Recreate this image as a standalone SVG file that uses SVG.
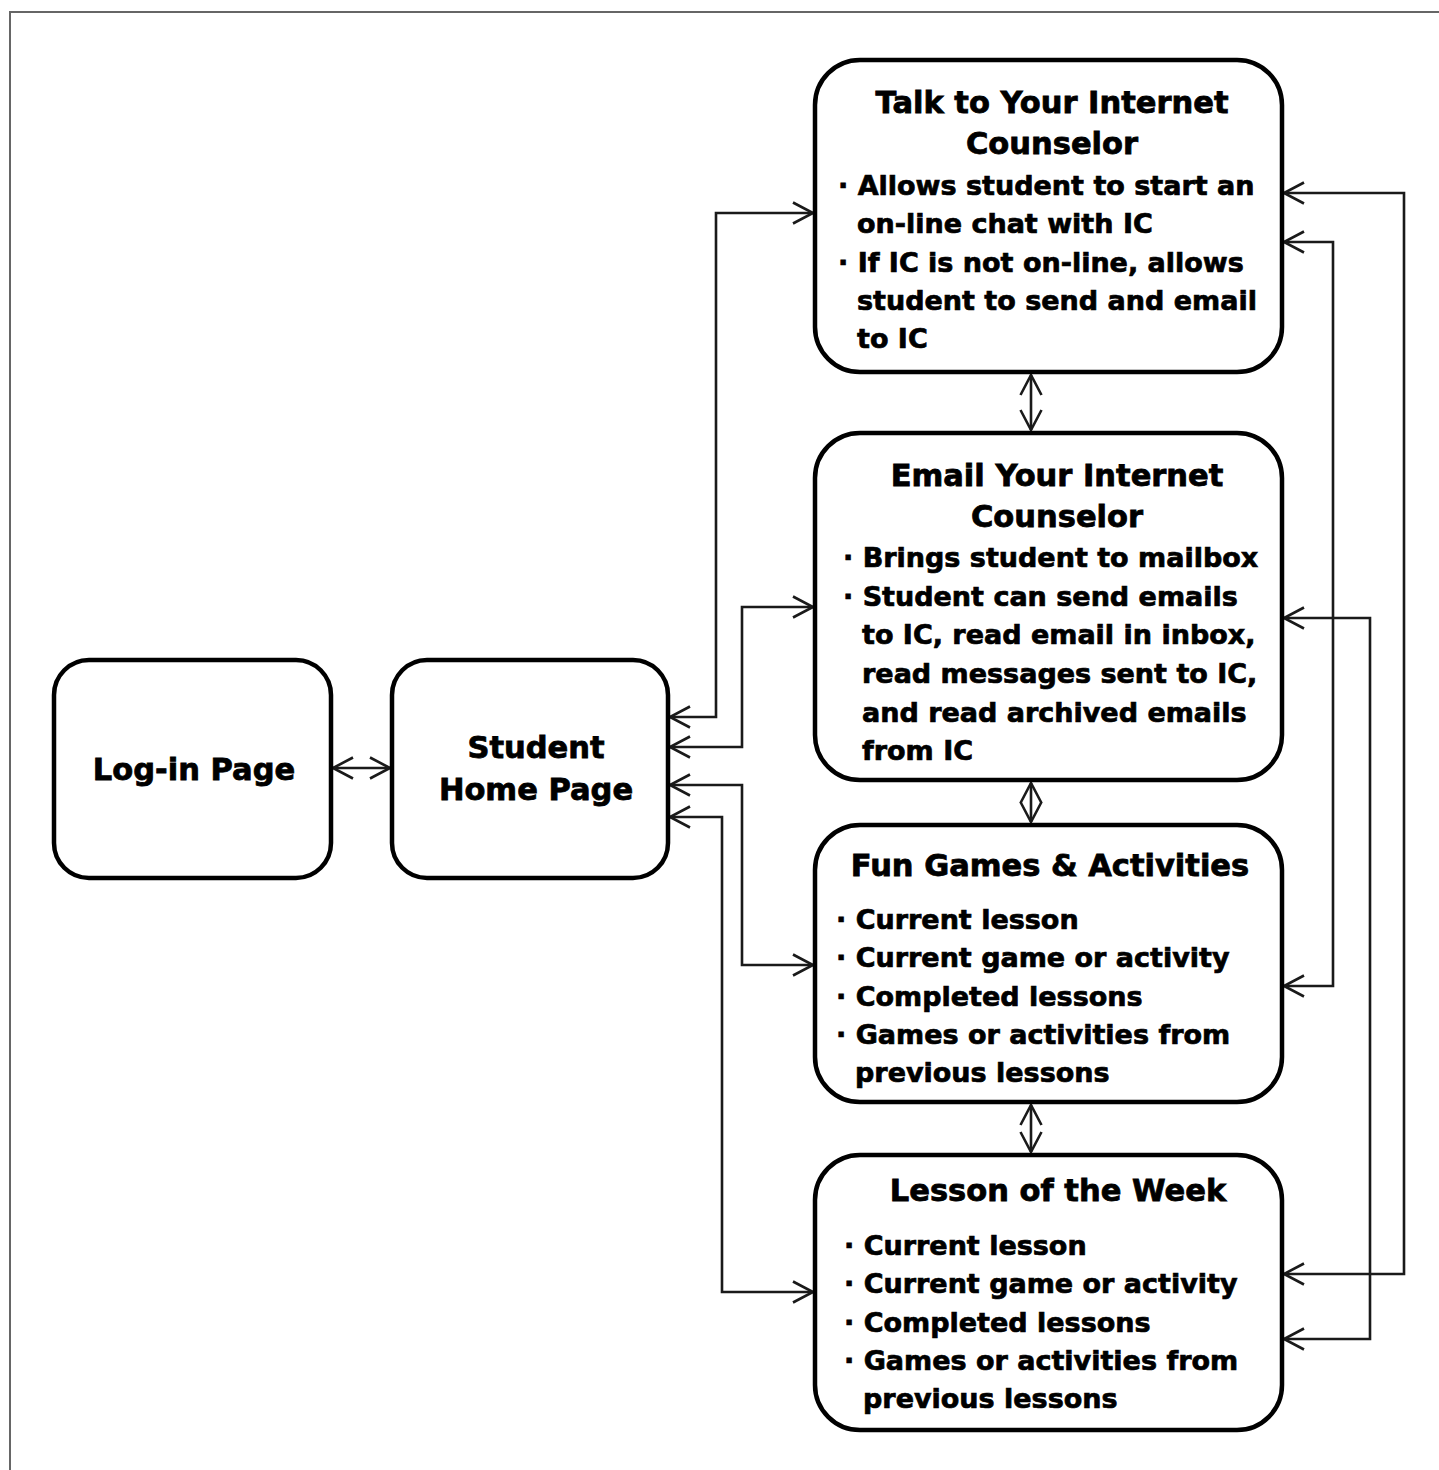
<svg xmlns="http://www.w3.org/2000/svg" width="1439" height="1470" viewBox="0 0 1439 1470">
  <defs>
    <marker id="chev" markerUnits="userSpaceOnUse" markerWidth="26" markerHeight="26" viewBox="-22 -13 24 26" refX="0" refY="0" orient="auto-start-reverse">
      <path d="M-20,-10.5 L0,0 L-20,10.5" fill="none" stroke="#1a1a1a" stroke-width="2.6"/>
    </marker>
  </defs>
  <style>
    .box { fill: #ffffff; stroke: #000000; stroke-width: 4.5; }
    .edge { fill: none; stroke: #1a1a1a; stroke-width: 2.6; marker-start: url(#chev); marker-end: url(#chev); }
    .title { font-family: "DejaVu Sans", "Liberation Sans", sans-serif; font-weight: bold; font-size: 30.5px; fill: #000; stroke: #000; stroke-width: 0.8; text-anchor: middle; }
    .item { font-family: "DejaVu Sans", "Liberation Sans", sans-serif; font-weight: bold; font-size: 27px; fill: #000; stroke: #000; stroke-width: 0.7; }
  </style>

  <rect width="1439" height="1470" fill="#ffffff"/>
  <!-- page frame -->
  <path d="M10,1470 V12 H1439" fill="none" stroke="#666666" stroke-width="2"/>

  <!-- connectors -->
  <g id="connectors">
    <path class="edge" d="M333,768 H390"/>
    <path class="edge" d="M670,717 H716 V213 H813"/>
    <path class="edge" d="M670,747 H742 V607 H813"/>
    <path class="edge" d="M670,785 H742 V965 H813"/>
    <path class="edge" d="M670,817 H722 V1292 H813"/>
    <path class="edge" d="M1031,375 V430"/>
    <path class="edge" d="M1031,783 V822"/>
    <path class="edge" d="M1031,1105 V1152"/>
    <path class="edge" d="M1284,193 H1404 V1274 H1284"/>
    <path class="edge" d="M1284,242 H1333 V986 H1284"/>
    <path class="edge" d="M1284,618 H1370 V1339 H1284"/>
  </g>

  <g id="login">
    <rect class="box" x="54" y="660" width="277" height="218" rx="35"/>
    <text class="title" x="194" y="780">Log-in Page</text>
  </g>

  <g id="home">
    <rect class="box" x="392" y="660" width="276" height="218" rx="35"/>
    <text class="title" x="536" y="758">Student</text>
    <text class="title" x="536" y="800">Home Page</text>
  </g>

  <g id="talk">
    <rect class="box" x="815" y="60" width="467" height="312" rx="45"/>
    <text class="title" x="1052" y="113">Talk to Your Internet</text>
    <text class="title" x="1052" y="154">Counselor</text>
    <text class="item" x="838" y="195">· Allows student to start an</text>
    <text class="item" x="857" y="233">on-line chat with IC</text>
    <text class="item" x="838" y="272">· If IC is not on-line, allows</text>
    <text class="item" x="857" y="310">student to send and email</text>
    <text class="item" x="857" y="348">to IC</text>
  </g>

  <g id="email">
    <rect class="box" x="815" y="433" width="467" height="347" rx="45"/>
    <text class="title" x="1057" y="486">Email Your Internet</text>
    <text class="title" x="1057" y="527">Counselor</text>
    <text class="item" x="843" y="567">· Brings student to mailbox</text>
    <text class="item" x="843" y="606">· Student can send emails</text>
    <text class="item" x="862" y="644">to IC, read email in inbox,</text>
    <text class="item" x="862" y="683">read messages sent to IC,</text>
    <text class="item" x="862" y="722">and read archived emails</text>
    <text class="item" x="862" y="760">from IC</text>
  </g>

  <g id="games">
    <rect class="box" x="815" y="825" width="467" height="277" rx="45"/>
    <text class="title" x="1050" y="876">Fun Games &amp; Activities</text>
    <text class="item" x="836" y="929">· Current lesson</text>
    <text class="item" x="836" y="967">· Current game or activity</text>
    <text class="item" x="836" y="1006">· Completed lessons</text>
    <text class="item" x="836" y="1044">· Games or activities from</text>
    <text class="item" x="855" y="1082">previous lessons</text>
  </g>

  <g id="lesson">
    <rect class="box" x="815" y="1155" width="467" height="275" rx="45"/>
    <text class="title" x="1058" y="1201">Lesson of the Week</text>
    <text class="item" x="844" y="1255">· Current lesson</text>
    <text class="item" x="844" y="1293">· Current game or activity</text>
    <text class="item" x="844" y="1332">· Completed lessons</text>
    <text class="item" x="844" y="1370">· Games or activities from</text>
    <text class="item" x="863" y="1408">previous lessons</text>
  </g>
</svg>
